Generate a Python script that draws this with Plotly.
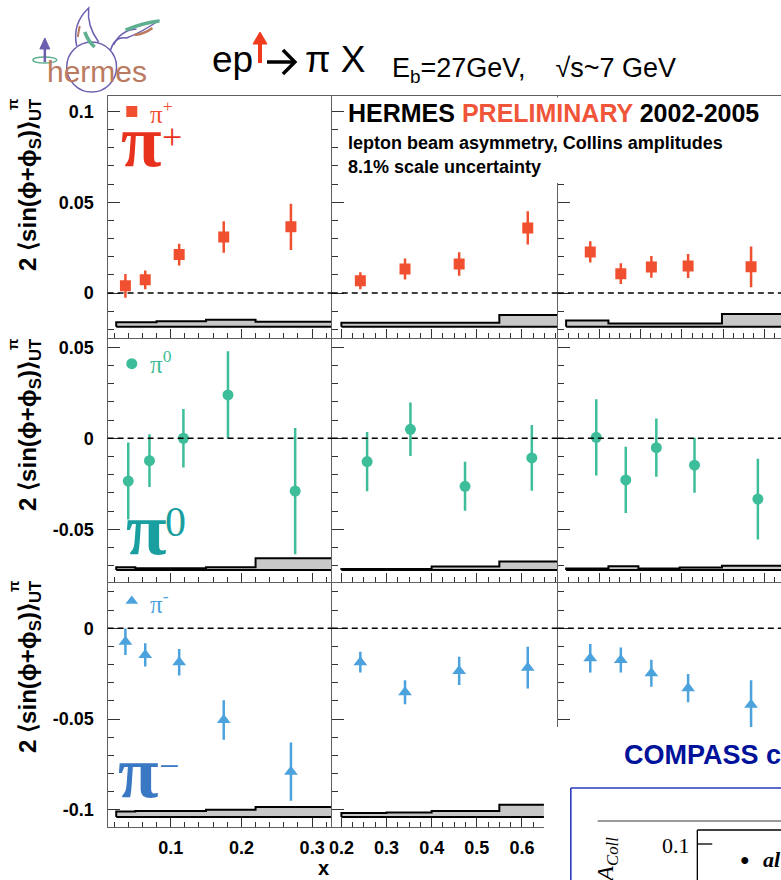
import plotly.graph_objects as go

W, H = 781, 880

# ---------------- data ----------------
# column variables
x_pi = [0.036, 0.064, 0.112, 0.175, 0.270]          # x bins (pi+, pi-)
x_pi0 = [0.040, 0.070, 0.118, 0.181, 0.276]         # x bins (pi0)
z_pi = [0.242, 0.341, 0.461, 0.613]                 # z bins (pi+, pi-)
z_pi0 = [0.257, 0.353, 0.474, 0.622]                # z bins (pi0)
p_pi = [0.157, 0.305, 0.453, 0.631, 0.936]          # Ph_perp bins (pi+, pi-)
p_pi0 = [0.186, 0.329, 0.477, 0.662, 0.969]         # Ph_perp bins (pi0)

# pi+
pip_x = [0.0040, 0.0073, 0.0212, 0.0309, 0.0365]
pip_x_err = [0.0065, 0.0052, 0.0060, 0.0087, 0.0127]
pip_z = [0.0068, 0.0133, 0.0160, 0.0359]
pip_z_err = [0.0047, 0.0058, 0.0065, 0.0092]
pip_p = [0.0227, 0.0107, 0.0144, 0.0149, 0.0145]
pip_p_err = [0.0059, 0.0057, 0.0060, 0.0066, 0.0112]
# pi0
pi0_x = [-0.0235, -0.0123, 0.0000, 0.0238, -0.0290]
pi0_x_err = [0.0211, 0.0145, 0.0161, 0.0240, 0.0347]
pi0_z = [-0.0128, 0.0049, -0.0264, -0.0108]
pi0_z_err = [0.0163, 0.0147, 0.0135, 0.0181]
pi0_p = [0.0005, -0.0229, -0.0052, -0.0148, -0.0334]
pi0_p_err = [0.0210, 0.0182, 0.0160, 0.0151, 0.0222]
# pi-
pim_x = [-0.0074, -0.0147, -0.0187, -0.0505, -0.0790]
pim_x_err = [0.0073, 0.0064, 0.0073, 0.0109, 0.0160]
pim_z = [-0.0187, -0.0352, -0.0235, -0.0217]
pim_z_err = [0.0057, 0.0066, 0.0078, 0.0115]
pim_p = [-0.0165, -0.0175, -0.0248, -0.0330, -0.0422]
pim_p_err = [0.0078, 0.0069, 0.0074, 0.0078, 0.0135]

# systematic bands
edges_x = [0.023, 0.05, 0.08, 0.15, 0.22, 0.40]
edges_z = [0.20, 0.30, 0.40, 0.55, 0.70]
edges_p = [0.04, 0.245, 0.39, 0.59, 0.795, 1.30]
band_base = [-0.0185, -0.0724, -0.1040]
sys_pip = [[0.0025, 0.0025, 0.0030, 0.0038, 0.0028],
           [0.0022, 0.0022, 0.0022, 0.0065],
           [0.0035, 0.0018, 0.0018, 0.0018, 0.0070]]
sys_pi0 = [[0.0015, 0.0010, 0.0010, 0.0015, 0.0065],
           [0.0006, 0.0006, 0.0019, 0.0046],
           [0.0008, 0.0020, 0.0008, 0.0014, 0.0023]]
sys_pim = [[0.0030, 0.0033, 0.0033, 0.0040, 0.0055],
           [0.0022, 0.0025, 0.0033, 0.0068],
           [0.0020, 0.0022, 0.0025, 0.0030, 0.0050]]

# tick labels
x_ticks = [[0.1, 0.2, 0.3], [0.2, 0.3, 0.4, 0.5, 0.6], [0.2, 0.4, 0.6, 0.8, 1.0]]
x_ticktext = [["0.1", "0.2", "0.3"], ["0.2", "0.3", "0.4", "0.5", "0.6"],
              ["0.2", "0.4", "0.6", "0.8", "1"]]
y_ticks = [[0, 0.05, 0.1], [-0.05, 0, 0.05], [-0.1, -0.05, 0]]
y_ticktext = [["0", "0.05", "0.1"], ["-0.05", "0", "0.05"], ["-0.1", "-0.05", "0"]]

# ---------------- layout geometry (pixels) ----------------
col_px = [(105, 330), (330, 557), (557, 781)]
row_px = [(96, 338), (338, 582), (582, 827)]
x_ranges = [[0.0108, 0.3277], [0.1786, 0.6797], [0.0, 1.081]]
y_ranges = [[-0.0247, 0.1085], [-0.0790, 0.0551], [-0.1095, 0.0255]]
x_minor = [0.02, 0.025, 0.05]

colors = ["#f0502f", "#3dbd99", "#4ba2dc"]
symbols = ["square", "circle", "triangle-up"]
msize = [11, 11, 12]

SANS = "Liberation Sans, Arial, sans-serif"
SERIF = "Liberation Serif, Times New Roman, serif"


def X(px):
    return px / W


def Y(py):
    return 1 - py / H


fig = go.Figure()
shapes = []
annotations = []

xs_sets = [[x_pi, z_pi, p_pi], [x_pi0, z_pi0, p_pi0], [x_pi, z_pi, p_pi]]
ys_sets = [[pip_x, pip_z, pip_p], [pi0_x, pi0_z, pi0_p], [pim_x, pim_z, pim_p]]
es_sets = [[pip_x_err, pip_z_err, pip_p_err], [pi0_x_err, pi0_z_err, pi0_p_err],
           [pim_x_err, pim_z_err, pim_p_err]]
sys_sets = [sys_pip, sys_pi0, sys_pim]
edges_sets = [edges_x, edges_z, edges_p]

layout_axes = {}
for r in range(3):
    for c in range(3):
        idx = r * 3 + c + 1
        xa = "x" if idx == 1 else f"x{idx}"
        ya = "y" if idx == 1 else f"y{idx}"
        # systematic band
        ed = edges_sets[c]
        hs = sys_sets[r][c]
        b = band_base[r]
        bx, by = [ed[0]], [b]
        for i, h in enumerate(hs):
            bx += [ed[i], ed[i + 1]]
            by += [b + h, b + h]
        bx += [ed[-1], ed[0]]
        by += [b, b]
        fig.add_trace(go.Scatter(x=bx, y=by, mode="lines", fill="toself",
                                 fillcolor="#c8c8c8",
                                 line=dict(color="black", width=2),
                                 xaxis=xa, yaxis=ya, hoverinfo="skip"))
        # data points
        fig.add_trace(go.Scatter(
            x=xs_sets[r][c], y=ys_sets[r][c], mode="markers",
            marker=dict(symbol=symbols[r], size=msize[r], color=colors[r],
                        line=dict(width=0)),
            error_y=dict(type="data", array=es_sets[r][c], thickness=2.5,
                         width=0, color=colors[r]),
            xaxis=xa, yaxis=ya))
        # zero line
        shapes.append(dict(type="line", xref=f"{xa} domain", yref=ya,
                           x0=0, x1=1, y0=0, y1=0,
                           line=dict(color="black", width=1.5, dash="6px,4px")))

        xkey = "xaxis" if idx == 1 else f"xaxis{idx}"
        ykey = "yaxis" if idx == 1 else f"yaxis{idx}"
        layout_axes[xkey] = dict(
            domain=[X(col_px[c][0]), X(col_px[c][1])], range=x_ranges[c],
            anchor=ya, showgrid=False, zeroline=False,
            showline=True, linecolor="#606060", linewidth=1.4, mirror=(r == 0),
            ticks="inside", ticklen=9, tickwidth=1.3, tickcolor="#333333",
            tickvals=x_ticks[c], ticktext=x_ticktext[c],
            minor=dict(dtick=x_minor[c], tick0=0, ticks="inside", ticklen=5,
                       tickwidth=1.1, tickcolor="#333333"),
            showticklabels=(r == 2 and c < 2), ticklabelstandoff=4,
            tickfont=dict(family=SANS, size=18, color="black", weight="bold"))
        layout_axes[ykey] = dict(
            domain=[Y(row_px[r][1]), Y(row_px[r][0])], range=y_ranges[r],
            anchor=xa, showgrid=False, zeroline=False,
            showline=True, linecolor="#606060", linewidth=1.4, mirror=False,
            ticks="inside", ticklen=12, tickwidth=1.3, tickcolor="#333333",
            tickvals=y_ticks[r], ticktext=y_ticktext[r],
            minor=dict(dtick=0.01, tick0=0, ticks="inside", ticklen=6,
                       tickwidth=1.1, tickcolor="#333333"),
            showticklabels=(c == 0), ticklabelstandoff=9,
            tickfont=dict(family=SANS, size=18, color="black", weight="bold"))


def path(cmds):
    s = ""
    for cmd, pts in cmds:
        s += cmd
        for (px, py) in pts:
            s += f" {X(px):.5f},{Y(py):.5f}"
        s += " "
    return s.strip()


def pline(pts, color, width):
    cmds = [("M", [pts[0]])] + [("L", [p]) for p in pts[1:]]
    shapes.append(dict(type="path", xref="paper", yref="paper", path=path(cmds),
                       line=dict(color=color, width=width)))


# ---- white cover behind header text and for COMPASS overlay ----
shapes.append(dict(type="rect", xref="paper", yref="paper", x0=X(343), x1=1.0,
                   y0=Y(183), y1=Y(97.5), fillcolor="white", line=dict(width=0),
                   layer="above"))
shapes.append(dict(type="rect", xref="paper", yref="paper", x0=X(543), x1=1.0,
                   y0=0, y1=Y(727), fillcolor="white", line=dict(width=0),
                   layer="above"))

# ---- COMPASS overlay decorations ----
shapes.append(dict(type="line", xref="paper", yref="paper", x0=X(570), x1=1.0,
                   y0=Y(788), y1=Y(788), line=dict(color="#2a3cb8", width=1.6)))
shapes.append(dict(type="line", xref="paper", yref="paper", x0=X(570), x1=X(570),
                   y0=0, y1=Y(788), line=dict(color="#2a3cb8", width=1.6)))
shapes.append(dict(type="line", xref="paper", yref="paper", x0=X(597), x1=1.0,
                   y0=Y(821), y1=Y(821), line=dict(color="#9a9a9a", width=2)))
shapes.append(dict(type="line", xref="paper", yref="paper", x0=X(697), x1=X(697),
                   y0=0, y1=Y(830), line=dict(color="black", width=1.3)))
shapes.append(dict(type="line", xref="paper", yref="paper", x0=X(697), x1=1.0,
                   y0=Y(830), y1=Y(830), line=dict(color="black", width=1.3)))
shapes.append(dict(type="line", xref="paper", yref="paper", x0=X(697), x1=X(712),
                   y0=Y(844), y1=Y(844), line=dict(color="black", width=1.3)))

# ---- hermes logo (decoration) ----
purple, lgreen, brown = "#6d5fb0", "#5fb08f", "#b97a60"
shapes.append(dict(type="circle", xref="paper", yref="paper", x0=X(64), x1=X(114),
                   y0=Y(92), y1=Y(42), line=dict(color=purple, width=1.5)))
shapes.append(dict(type="circle", xref="paper", yref="paper", x0=X(30), x1=X(54),
                   y0=Y(63), y1=Y(57), line=dict(color=lgreen, width=1.5)))
shapes.append(dict(type="line", xref="paper", yref="paper", x0=X(42), x1=X(42),
                   y0=Y(62), y1=Y(47), line=dict(color=purple, width=2.5)))
shapes.append(dict(type="path", xref="paper", yref="paper",
                   path=path([("M", [(37, 49)]), ("L", [(47, 49)]), ("L", [(42, 38)]), ("Z", [])]),
                   fillcolor=purple, line=dict(color=purple, width=1)))
shapes.append(dict(type="path", xref="paper", yref="paper",
                   path=path([("M", [(74, 46)]), ("Q", [(69, 24), (86, 8)]),
                              ("Q", [(84, 26), (96, 42)])]),
                   line=dict(color=purple, width=1.5)))
shapes.append(dict(type="path", xref="paper", yref="paper",
                   path=path([("M", [(82, 32)]), ("Q", [(86, 42), (92, 47)])]),
                   line=dict(color=lgreen, width=3.5)))
shapes.append(dict(type="path", xref="paper", yref="paper",
                   path=path([("M", [(77, 26)]), ("L", [(75, 37)])]),
                   line=dict(color=brown, width=2)))
shapes.append(dict(type="path", xref="paper", yref="paper",
                   path=path([("M", [(108, 50)]), ("Q", [(112, 36), (124, 38)]),
                              ("Q", [(140, 32), (157, 20)])]),
                   line=dict(color=purple, width=1.5)))
shapes.append(dict(type="path", xref="paper", yref="paper",
                   path=path([("M", [(111, 45)]), ("Q", [(118, 30), (134, 29)])]),
                   line=dict(color=purple, width=1.5)))
shapes.append(dict(type="path", xref="paper", yref="paper",
                   path=path([("M", [(123, 30)]), ("Q", [(140, 23), (157, 21)])]),
                   line=dict(color=lgreen, width=3.5)))
shapes.append(dict(type="path", xref="paper", yref="paper",
                   path=path([("M", [(132, 35)]), ("Q", [(142, 34), (150, 28)])]),
                   line=dict(color=brown, width=2.5)))

# ---- red spin arrow and reaction arrow in title ----
red = "#f03a1e"
shapes.append(dict(type="line", xref="paper", yref="paper", x0=X(258), x1=X(258),
                   y0=Y(63), y1=Y(42), line=dict(color=red, width=4)))
shapes.append(dict(type="path", xref="paper", yref="paper",
                   path=path([("M", [(251, 44)]), ("L", [(265, 44)]), ("L", [(258, 32)]), ("Z", [])]),
                   fillcolor=red, line=dict(color=red, width=1)))
pline([(265, 62), (292, 62)], "black", 3.5)
pline([(281, 50), (293, 62), (281, 74)], "black", 3.5)


def ann(text, px, py, size, color="black", family=SANS, xanchor="center",
        yanchor="middle", angle=0, weight="normal", style="normal"):
    annotations.append(dict(text=text, x=X(px), y=Y(py), xref="paper", yref="paper",
                            showarrow=False, xanchor=xanchor, yanchor=yanchor,
                            textangle=angle,
                            font=dict(family=family, size=size, color=color,
                                      weight=weight, style=style)))


# logo text and title
ann("hermes", 94, 72, 30, color=brown)
ann("ep", 208, 60, 37, xanchor="left")
ann("π X", 301, 60, 37, xanchor="left")
ann("E<sub>b</sub>=27GeV,\u00a0\u00a0\u00a0 √s~7 GeV", 388, 70, 27, xanchor="left")

# header in top panels
ann("HERMES <span style='color:#f0553a'>PRELIMINARY</span> 2002-2005", 344, 113, 25,
    xanchor="left", weight="bold")
ann("lepton beam asymmetry, Collins amplitudes", 344, 143, 18, xanchor="left",
    weight="bold")
ann("8.1% scale uncertainty", 344, 167, 18, xanchor="left", weight="bold")

# y-axis titles (pi superscript stacked above the UT subscript)
ylab = "2 ⟨sin(ϕ+ϕ<sub>S</sub>)⟩<sub>UT</sub>"
for cy, sy in [(184, 104), (424, 344), (666, 586)]:
    ann(ylab, 26, cy, 24, angle=-90, weight="bold")
    ann("π", 10, sy, 15, angle=-90, weight="bold")

# x-axis title
ann("x", 322, 868, 20, weight="bold")

# small legends
fig.add_trace(go.Scatter(x=[0.045], y=[0.1], mode="markers",
                         marker=dict(symbol="square", size=11, color=colors[0]),
                         xaxis="x", yaxis="y"))
fig.add_trace(go.Scatter(x=[0.045], y=[0.041], mode="markers",
                         marker=dict(symbol="circle", size=11, color=colors[1]),
                         xaxis="x4", yaxis="y4"))
fig.add_trace(go.Scatter(x=[0.045], y=[0.015], mode="markers",
                         marker=dict(symbol="triangle-up", size=11, color=colors[2]),
                         xaxis="x7", yaxis="y7"))
ann("π<sup>+</sup>", 146, 112, 25, color=colors[0], family=SERIF, xanchor="left")
ann("π<sup>0</sup>", 146, 362, 25, color=colors[1], family=SERIF, xanchor="left")
ann("π<sup>-</sup>", 146, 602, 25, color=colors[2], family=SERIF, xanchor="left")

# big pion labels (symbol + superscript charge)
ann("π", 139, 141, 74, color="#e8321e", family=SERIF, weight="bold")
ann("+", 170, 137, 36, color="#e8321e", family=SERIF)
ann("π", 144, 529, 74, color="#1a9fa0", family=SERIF, weight="bold")
ann("0", 173, 522, 42, color="#1a9fa0", family=SERIF)
ann("π", 136, 772, 74, color="#3a78c3", family=SERIF, weight="bold")
ann("−", 167, 766, 36, color="#3a78c3", family=SERIF)

# COMPASS overlay text
ann("COMPASS c", 621, 755, 27, color="#00119a", xanchor="left", weight="bold")
ann("0.1", 692, 845, 22, family=SERIF, xanchor="right")
ann("A<sub>Coll</sub>", 606, 860, 24, family=SERIF, angle=-90, style="italic")
ann("●", 745, 859, 16)
ann("al", 761, 859, 22, family=SERIF, xanchor="left", weight="bold", style="italic")

fig.update_layout(
    width=W, height=H, margin=dict(l=0, r=0, t=0, b=0),
    paper_bgcolor="white", plot_bgcolor="white", showlegend=False,
    shapes=shapes, annotations=annotations, **layout_axes)

fig.write_html("out.html")
